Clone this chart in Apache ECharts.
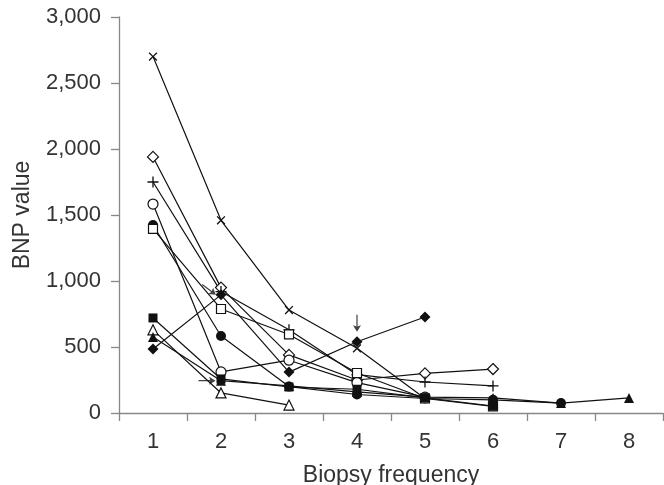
<!DOCTYPE html>
<html>
<head>
<meta charset="utf-8">
<script src="https://cdn.jsdelivr.net/npm/echarts@6/dist/echarts.min.js"></script>
<style>
  html, body { margin: 0; padding: 0; background: #fff; }
  #chart { width: 664px; height: 485px; }
</style>
</head>
<body>
<div id="chart"></div>
<script>
var categories = ['1', '2', '3', '4', '5', '6', '7', '8'];

// one line per patient, BNP
var crossVals   = [2700, 1460, 780, 490, 110];
var diamondVals = [1940, 950, 440, 250, 300, 333];
var plusVals    = [1750, 920, 630, 290, 235, 205];
var circleVals  = [1583, 311, 400, 230, 120];
var dotVals     = [1424, 583, 200, 140, 110, 100, 75];
var squareVals  = [1395, 788, 595, 303, 110, 50];
var boxVals     = [720, 258, 197, 180, 114, 53];
var triVals     = [630, 152, 60];
var solidTriVals = [575, 245, 205, 160, 120, 114, 75, 114];
var solidDiaVals = [485, 895, 310, 540, 727];

// arrows: [category index, value, rotation, x offset]
var arrowMarks = [
  [1, 935, -127, -12],
  [3, 680, 180, 0],
  [1, 245, -90, -14]
];

var plusPath = 'path://M4.4,0 H5.6 V4.4 H10 V5.6 H5.6 V10 H4.4 V5.6 H0 V4.4 H4.4 Z';
var arrowPath = 'path://M4,0 L8,6 L4.6,5 L4.6,16 L3.4,16 L3.4,5 L0,6 Z';

function makeLine(name, vals, symbol, size, filled, rotate) {
  return {
    name: name,
    type: 'line',
    data: vals,
    symbol: symbol,
    symbolSize: size,
    symbolRotate: rotate || 0,
    showAllSymbol: true,
    lineStyle: { color: '#111', width: 1.2 },
    itemStyle: {
      color: filled ? '#111' : '#fff',
      borderColor: '#111',
      borderWidth: filled ? 0 : 1.2
    },
    emphasis: { disabled: true },
    animation: false
  };
}

var chart = echarts.init(document.getElementById('chart'));
chart.setOption({
  backgroundColor: '#fff',
  animation: false,
  grid: { left: 119, top: 17, right: 1, bottom: 72, outerBoundsMode: 'none', containLabel: false },
  xAxis: {
    type: 'category',
    data: categories,
    boundaryGap: true,
    name: 'Biopsy frequency',
    nameLocation: 'middle',
    nameGap: 51,
    nameTextStyle: { fontFamily: 'Liberation Sans', fontSize: 23, color: '#333' },
    axisLine: { lineStyle: { color: '#888', width: 1.3 } },
    axisTick: { show: true, length: 8, lineStyle: { color: '#888', width: 1.3 } },
    axisLabel: { fontFamily: 'Liberation Sans', fontSize: 22, color: '#333', margin: 18 },
    splitLine: { show: false }
  },
  yAxis: {
    type: 'value',
    min: 0,
    max: 3000,
    interval: 500,
    name: 'BNP value',
    nameLocation: 'middle',
    nameGap: 85,
    nameTextStyle: { fontFamily: 'Liberation Sans', fontSize: 23, color: '#333' },
    axisLine: { show: true, lineStyle: { color: '#888', width: 1.3 } },
    axisTick: { show: true, length: 8, lineStyle: { color: '#888', width: 1.3 } },
    axisLabel: {
      fontFamily: 'Liberation Sans', fontSize: 22, color: '#333', margin: 18,
      formatter: function (v) { return v.toLocaleString('en-US'); }
    },
    splitLine: { show: false }
  },
  series: [
    makeLine('×', crossVals, plusPath, 11, true, 45),
    makeLine('◇', diamondVals, 'diamond', 11, false),
    makeLine('+', plusVals, plusPath, 11, true),
    makeLine('○', circleVals, 'circle', 10, false),
    makeLine('●', dotVals, 'circle', 10, true),
    makeLine('□', squareVals, 'rect', 9, false),
    makeLine('■', boxVals, 'rect', 9, true),
    makeLine('△', triVals, 'triangle', 10, false),
    makeLine('▲', solidTriVals, 'triangle', 10, true),
    makeLine('◆', solidDiaVals, 'diamond', 11, true),
    {
      name: 'arrows',
      type: 'scatter',
      symbol: arrowPath,
      symbolSize: [8, 17],
      itemStyle: { color: '#111' },
      data: arrowMarks.map(function (a) {
        return { value: [a[0], a[1]], symbolRotate: a[2], symbolOffset: [a[3], 0] };
      }),
      z: 5,
      emphasis: { disabled: true },
      animation: false
    }
  ]
});
</script>
</body>
</html>
